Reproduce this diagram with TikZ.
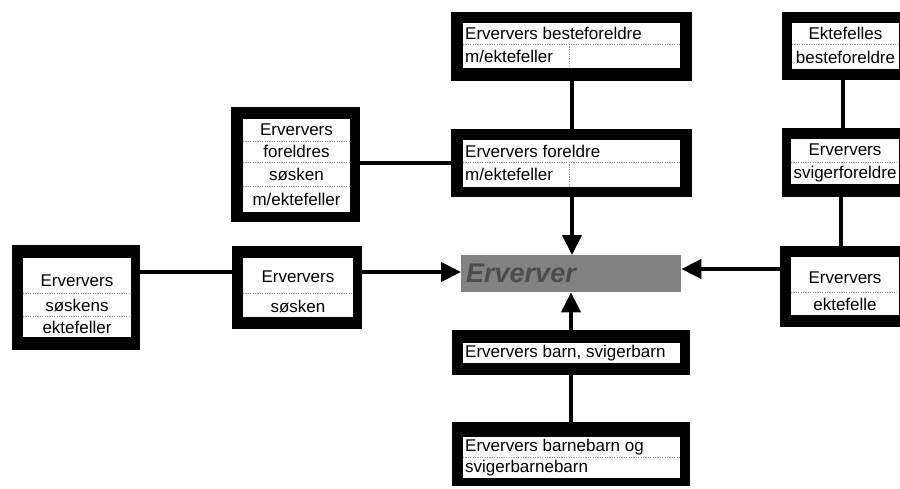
\documentclass[tikz,border=0pt]{standalone}
\usepackage{fontspec}
\setmainfont{Liberation Sans}
\usetikzlibrary{arrows.meta}
\begin{document}
\begin{tikzpicture}[x=1pt,y=-1pt,
  frame/.style={fill=black,inner sep=0pt,anchor=north west},
  inbox/.style={fill=white},
  sep/.style={draw=gray!80,line width=0.7pt,dash pattern=on 1.2pt off 1.2pt},
  txt/.style={inner sep=0pt,font=\fontsize{17}{20}\selectfont},
  ltxt/.style={txt,anchor=west},
  conn/.style={line width=4pt},
  arr/.style={line width=4pt,-{Triangle[length=20pt,width=19pt]}}]
\useasboundingbox (0,0) rectangle (900,488);
\clip (0,0) rectangle (900,488);
% ---- A: besteforeldre
\node[frame,minimum width=241pt,minimum height=69pt] (A) at (451,12) {};
\fill[inbox] (463,23) rectangle (680,68);
\draw[sep] (463,44) -- (680,44);
\draw[sep] (569,44) -- (569,68);
\node[ltxt] (A1) at (465,33.5) {Erververs besteforeldre};
\node[ltxt] (A2) at (465,56) {m/ektefeller};
% ---- B: foreldre
\node[frame,minimum width=241pt,minimum height=68pt] (B) at (451,129) {};
\fill[inbox] (463,140) rectangle (680,187);
\draw[sep] (463,162) -- (680,162);
\draw[sep] (569,162) -- (569,187);
\node[ltxt] (B1) at (465,151) {Erververs foreldre};
\node[ltxt] (B2) at (465,174.5) {m/ektefeller};
% ---- C: foreldres soesken
\node[frame,minimum width=129pt,minimum height=115pt] (C) at (231,107) {};
\fill[inbox] (243,119) rectangle (350,212);
\draw[sep] (243,141) -- (350,141);
\draw[sep] (243,162) -- (350,162);
\draw[sep] (243,186) -- (350,186);
\node[txt] (C1) at (296.5,130) {Erververs};
\node[txt] (C2) at (296.5,151.5) {foreldres};
\node[txt] (C3) at (296.5,174) {søsken};
\node[txt] (C4) at (296.5,199) {m/ektefeller};
% ---- S: soesken
\node[frame,minimum width=130pt,minimum height=83pt] (S) at (232,246) {};
\fill[inbox] (243,258) rectangle (353,317);
\draw[sep] (243,293) -- (353,293);
\node[txt] (S1) at (298,277) {Erververs};
\node[txt] (S2) at (298,306) {søsken};
% ---- SE: soeskens ektefeller
\node[frame,minimum width=128pt,minimum height=105pt] (SE) at (12,245) {};
\fill[inbox] (23,258) rectangle (131,337);
\draw[sep] (23,293) -- (131,293);
\draw[sep] (23,316) -- (131,316);
\node[txt] (SE1) at (77,281) {Erververs};
\node[txt] (SE2) at (77,305) {søskens};
\node[txt] (SE3) at (77,327.5) {ektefeller};
% ---- EB: ektefelles besteforeldre
\node[frame,minimum width=123pt,minimum height=68pt] (EB) at (782,12) {};
\fill[inbox] (792,23) rectangle (899,69);
\draw[sep] (792,44) -- (899,44);
\node[txt] (EB1) at (845.5,33.5) {Ektefelles};
\node[txt] (EB2) at (845.5,57.5) {besteforeldre};
% ---- SF: svigerforeldre
\node[frame,minimum width=123pt,minimum height=69pt] (SF) at (782,128) {};
\fill[inbox] (791,139) rectangle (899,184);
\draw[sep] (791,162) -- (899,162);
\node[txt] (SF1) at (845,150) {Erververs};
\node[txt] (SF2) at (845,174) {svigerforeldre};
% ---- EK: ektefelle
\node[frame,minimum width=125pt,minimum height=81pt] (EK) at (780,246) {};
\fill[inbox] (791,257) rectangle (899,315);
\draw[sep] (791,292) -- (899,292);
\node[txt] (EK1) at (845,278) {Erververs};
\node[txt] (EK2) at (845,304) {ektefelle};
% ---- D: barn
\node[frame,minimum width=238pt,minimum height=45pt] (D) at (452,330) {};
\fill[inbox] (463,343) rectangle (680,363);
\node[ltxt] (D1) at (465,353) {Erververs barn, svigerbarn};
% ---- E: barnebarn
\node[frame,minimum width=238pt,minimum height=64pt] (E) at (452,422) {};
\fill[inbox] (463,437) rectangle (680,478);
\draw[sep] (463,457) -- (680,457);
\node[ltxt] (E1) at (465,447) {Erververs barnebarn og};
\node[ltxt] (E2) at (465,468) {svigerbarnebarn};
% ---- central
\node[fill=gray!60!black!70,inner sep=0pt,anchor=north west,minimum width=220pt,minimum height=37pt] (ERV) at (461,255) {};
\node[inner sep=0pt,anchor=west,text=black!70,font=\fontsize{27}{30}\selectfont\bfseries\itshape] (ERVT) at (466,273.5) {Erverver};
% ---- connectors
\draw[conn] (A.south -| 572,0) -- (B.north -| 572,0);
\draw[arr] (B.south -| 572,0) -- (ERV.north -| 572,0);
\draw[conn] (C.east |- 0,163) -- (B.west |- 0,163);
\draw[conn] (SE.east |- 0,272) -- (S.west |- 0,272);
\draw[arr] (S.east |- 0,272) -- (ERV.west |- 0,272);
\draw[conn] (EB.south -| 843,0) -- (SF.north -| 843,0);
\draw[conn] (SF.south -| 841,0) -- (EK.north -| 841,0);
\draw[arr] (EK.west |- 0,269) -- (ERV.east |- 0,269);
\draw[arr] (D.north -| 571,0) -- (ERV.south -| 571,0);
\draw[conn] (E.north -| 571,0) -- (D.south -| 571,0);
\end{tikzpicture}
\end{document}
